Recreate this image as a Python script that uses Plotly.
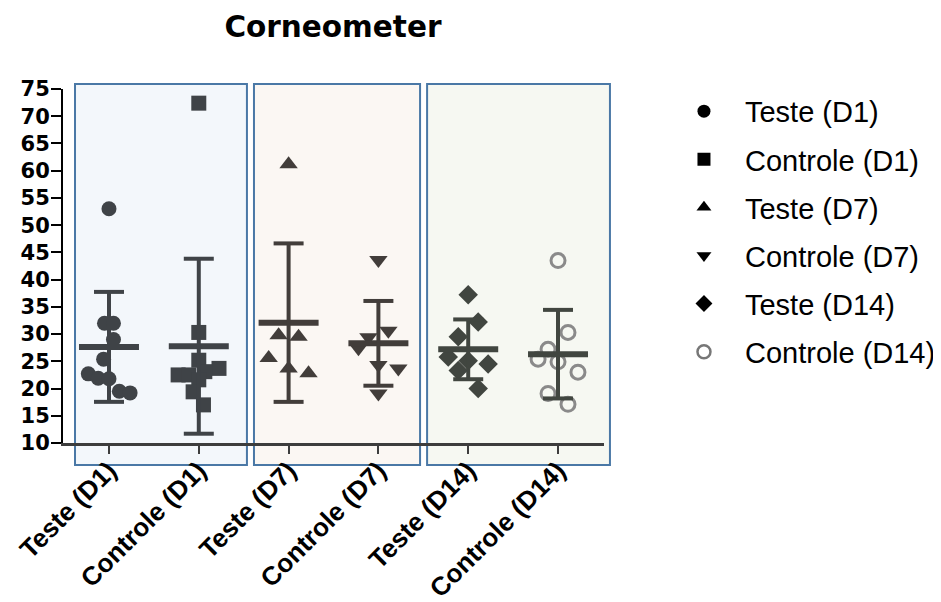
import numpy as np
import plotly.graph_objects as go

categories = ["Teste (D1)", "Controle (D1)", "Teste (D7)", "Controle (D7)", "Teste (D14)", "Controle (D14)"]

teste_d1 = [53.0, 32.0, 32.0, 29.0, 25.4, 22.7, 21.9, 21.8, 19.5, 19.2]
controle_d1 = [72.4, 30.3, 25.2, 23.7, 23.1, 22.5, 22.5, 21.6, 19.4, 17.0]
teste_d7 = [61.2, 29.8, 29.5, 25.6, 23.7, 22.8]
controle_d7 = [43.6, 30.6, 29.4, 27.4, 24.3, 23.7, 19.1]
teste_d14 = [37.2, 32.2, 29.5, 25.8, 25.1, 24.5, 23.3, 20.0]
controle_d14 = [43.5, 30.3, 27.2, 25.4, 24.9, 23.0, 19.1, 17.1]

# horizontal scatter (jitter) of each point, in category units
jit_teste_d1 = [0, -0.05, 0.05, 0.05, -0.06, -0.23, -0.12, 0, 0.115, 0.235]
jit_controle_d1 = [0, 0, 0, 0.225, 0.067, -0.23, -0.11, 0, -0.063, 0.052]
jit_teste_d7 = [0, -0.111, 0.111, -0.222, 0, 0.222]
jit_controle_d7 = [0, 0.111, -0.111, -0.222, 0, 0.222, 0]
jit_teste_d14 = [0, 0.111, -0.111, -0.222, 0, 0.222, -0.111, 0.111]
jit_controle_d14 = [0, 0.111, -0.111, -0.222, 0, 0.222, -0.111, 0.111]

series = [teste_d1, controle_d1, teste_d7, controle_d7, teste_d14, controle_d14]
jitters = [jit_teste_d1, jit_controle_d1, jit_teste_d7, jit_controle_d7, jit_teste_d14, jit_controle_d14]
symbols = ["circle", "square", "triangle-up", "triangle-down", "diamond", "circle-open"]
sizes = [15, 15, 16, 16, 15, 14]
mark_colors = ["#3f4347", "#3f4347", "#423d3a", "#423d3a", "#414640", "#8a8a8a"]
line_colors = ["#3f4347", "#3f4347", "#423d3a", "#423d3a", "#414640", "#414640"]
legend_colors = ["#000000", "#000000", "#000000", "#000000", "#000000", "#777777"]

FONT = "Arial, 'Liberation Sans', sans-serif"
WIDE = "'DejaVu Sans', Arial, sans-serif"

fig = go.Figure()

# group panels
panels = [
    (0.0222, 0.340, "#f3f7fb"),
    (0.353, 0.660, "#fbf7f3"),
    (0.673, 1.011, "#f6f8f2"),
]
for x0, x1, fc in panels:
    fig.add_shape(type="rect", xref="paper", yref="paper", x0=x0, x1=x1, y0=-0.062, y1=1.014,
                  fillcolor=fc, line=dict(color="#4a78a6", width=2), layer="below")

for i, (vals, jit) in enumerate(zip(series, jitters)):
    xs = [i + j for j in jit]
    fig.add_trace(go.Scatter(
        x=xs, y=vals, mode="markers", showlegend=False, hoverinfo="skip",
        marker=dict(symbol=symbols[i], size=sizes[i], color=mark_colors[i],
                    line=dict(width=3 if symbols[i] == "circle-open" else 0, color=mark_colors[i]))))
    m = float(np.mean(vals))
    sd = float(np.std(vals, ddof=1))
    fig.add_trace(go.Scatter(
        x=[i - 0.334, i + 0.334], y=[m, m], mode="lines", showlegend=False, hoverinfo="skip",
        line=dict(color=line_colors[i], width=6)))
    fig.add_trace(go.Scatter(
        x=[i, i, None, i - 0.167, i + 0.167, None, i - 0.167, i + 0.167],
        y=[m - sd, m + sd, None, m + sd, m + sd, None, m - sd, m - sd],
        mode="lines", showlegend=False, hoverinfo="skip",
        line=dict(color=line_colors[i], width=4)))

for i, name in enumerate(categories):
    fig.add_trace(go.Scatter(
        x=[None], y=[None], mode="markers", name=name, legendgroup=name,
        marker=dict(symbol=symbols[i], size=13, color=legend_colors[i],
                    line=dict(width=2.5 if symbols[i] == "circle-open" else 0, color=legend_colors[i]))))

fig.update_layout(
    width=933, height=594,
    margin=dict(l=55, r=337, t=81, b=159, autoexpand=False),
    paper_bgcolor="white", plot_bgcolor="rgba(0,0,0,0)",
    font=dict(family=FONT, color="black"),
    title=dict(text="<b>Corneometer</b>", font=dict(size=29.5, color="black", family=WIDE),
               x=0.499, xref="paper", xanchor="center", y=1 - 19 / 594, yref="container", yanchor="middle"),
    showlegend=True,
    legend=dict(x=1.109, xanchor="left", y=1.009, yanchor="top", font=dict(size=29, color="black"),
                tracegroupgap=7.4, itemwidth=72, bgcolor="rgba(0,0,0,0)"),
    xaxis=dict(range=[-0.512, 5.512], tickvals=list(range(6)), ticktext=categories, tickangle=-45,
               showgrid=False, zeroline=False, showline=True, linecolor="#3d3d3d", linewidth=3,
               ticks="outside", ticklen=8, tickwidth=2, tickcolor="#3d3d3d", automargin=False,
               ticklabelstandoff=-9, ticklabeloverflow="allow",
               tickfont=dict(size=26, color="black", family=FONT, weight="bold")),
    yaxis=dict(range=[10, 75], tickvals=list(range(10, 80, 5)), showgrid=False, zeroline=False,
               showline=True, linecolor="black", linewidth=2, ticks="outside", ticklen=10, tickwidth=2,
               tickcolor="black", automargin=False, ticklabelstandoff=-3,
               tickfont=dict(size=21, color="black", family=WIDE, weight="bold")),
)

fig.write_html("out.html")
